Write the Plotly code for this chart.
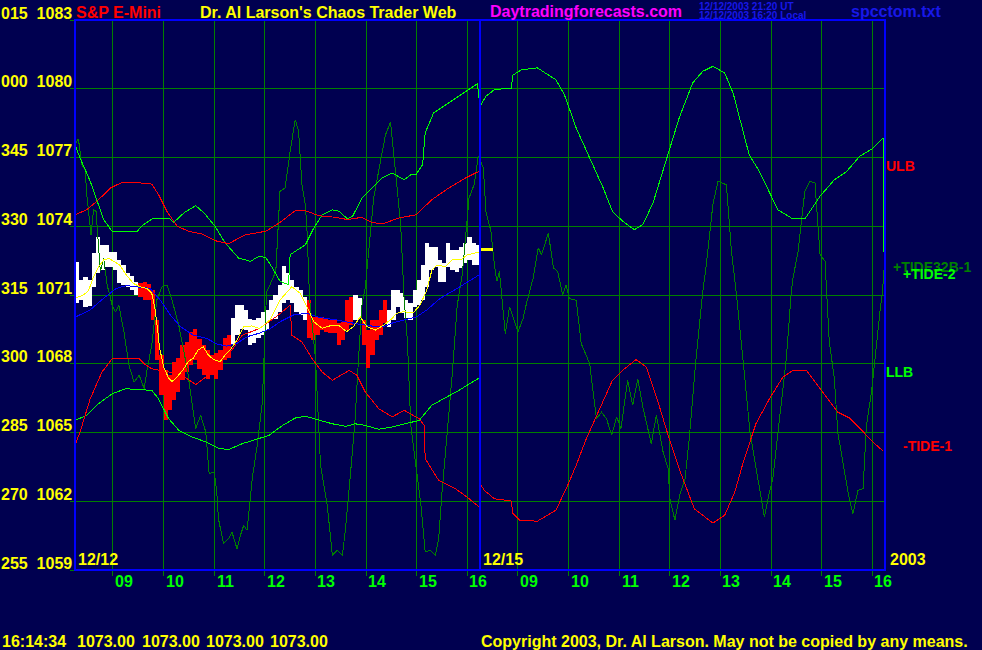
import plotly.graph_objects as go

# ---------------- data ----------------
# x axis = minutes from 08:15 on 12/12 (0..480), then 12/15 session (480..960)
hour_tick_min = [45, 105, 165, 225, 285, 345, 405, 465, 525, 585, 645, 705, 765, 825, 885, 945]
hour_tick_lbl = ["09", "10", "11", "12", "13", "14", "15", "16", "09", "10", "11", "12", "13", "14", "15", "16"]
price_grid = [1059, 1062, 1065, 1068, 1071, 1074, 1077, 1080, 1083]
price_lbl = ["255\u00a0\u00a01059", "270\u00a0\u00a01062", "285\u00a0\u00a01065", "300\u00a0\u00a01068",
             "315\u00a0\u00a01071", "330\u00a0\u00a01074", "345\u00a0\u00a01077", "000\u00a0\u00a01080",
             "015\u00a0\u00a01083"]

# 5-minute price bars for 12/12
bar_start = list(range(0, 480, 5))
bar_high = [1072.44, 1071.65, 1071.79, 1071.65, 1072.83, 1073.53, 1073.18, 1073.18, 1072.88, 1072.88,
            1072.53, 1072.31, 1071.96, 1071.83, 1071.57, 1071.52, 1071.57, 1071.48, 1071.22, 1069.91,
            1068.38, 1067.73, 1067.51, 1068.08, 1068.25, 1068.82, 1068.95, 1069.39, 1069.52, 1069.08,
            1068.82, 1068.60, 1068.38, 1068.47, 1068.60, 1069.12, 1069.25, 1070.00, 1070.56, 1070.56,
            1070.35, 1069.95, 1069.91, 1070.00, 1070.26, 1070.35, 1070.78, 1071.00, 1071.44, 1072.27,
            1071.96, 1071.65, 1071.35, 1071.22, 1070.91, 1070.78, 1070.04, 1070.04, 1070.04, 1070.00,
            1069.91, 1069.91, 1069.78, 1069.82, 1070.78, 1070.91, 1071.00, 1070.87, 1069.91, 1069.47,
            1069.91, 1069.91, 1070.35, 1070.78, 1070.35, 1071.22, 1071.22, 1071.09, 1070.78, 1070.65,
            1071.22, 1071.65, 1072.31, 1073.27, 1073.09, 1073.09, 1072.53, 1072.40, 1073.27, 1072.96,
            1072.96, 1073.09, 1073.27, 1073.53, 1073.27, 1073.18]
bar_low = [1070.65, 1070.78, 1070.48, 1070.52, 1071.35, 1071.96, 1072.09, 1072.22, 1072.22, 1072.09,
           1071.52, 1071.44, 1071.35, 1071.22, 1071.00, 1070.91, 1070.78, 1070.78, 1069.91, 1068.16,
           1066.64, 1065.55, 1065.98, 1066.42, 1066.77, 1067.29, 1067.64, 1067.95, 1068.16, 1067.77,
           1067.51, 1067.33, 1067.51, 1067.33, 1067.73, 1068.16, 1068.25, 1068.82, 1069.25, 1069.52,
           1069.47, 1068.82, 1068.91, 1069.12, 1069.25, 1069.47, 1069.91, 1069.95, 1070.26, 1070.65,
           1070.78, 1070.65, 1070.26, 1070.13, 1069.91, 1069.12, 1069.04, 1069.25, 1069.47, 1069.39,
           1069.34, 1069.34, 1068.82, 1069.04, 1069.47, 1069.69, 1069.91, 1070.00, 1068.82, 1067.81,
           1068.38, 1069.04, 1069.25, 1069.78, 1069.60, 1069.91, 1070.48, 1070.21, 1070.00, 1069.91,
           1070.48, 1070.56, 1070.78, 1071.35, 1072.09, 1072.22, 1071.57, 1071.57, 1072.22, 1072.09,
           1072.00, 1072.18, 1072.40, 1072.53, 1072.31, 1072.31]
sell_periods = [(75, 185), (275, 330), (340, 370)]   # bars shown in red
last_price = 1073.00
last_price_min = [480, 495]

# fast average (yellow)
fast_min = [0, 10, 16, 22, 28, 34, 40, 45, 53, 61, 69, 77, 85, 91, 95, 98, 100, 105, 111, 115,
            121, 128, 134, 140, 146, 152, 158, 164, 172, 178, 184, 192, 200, 210, 219, 231, 243, 257, 267, 275,
            283, 293, 302, 312, 322, 330, 338, 346, 356, 366, 376, 381, 389, 401, 409, 417, 423, 429, 439, 447,
            457, 465, 480]
fast_val = [1070.86, 1071.00, 1071.19, 1071.80, 1072.23, 1072.53, 1072.60, 1072.50, 1072.31, 1071.87,
            1071.51, 1071.36, 1071.29, 1071.07, 1070.35, 1069.47, 1068.74, 1067.87, 1067.37, 1067.22,
            1067.43, 1067.73, 1068.09, 1068.24, 1068.60, 1068.74, 1068.38, 1068.19, 1068.09, 1068.38,
            1068.60, 1069.04, 1069.62, 1069.65, 1069.54, 1069.91, 1070.78, 1071.36, 1071.07, 1070.49,
            1069.83, 1069.55, 1069.65, 1069.69, 1069.40, 1069.62, 1070.05, 1069.62, 1069.47, 1069.69,
            1069.98, 1070.20, 1070.27, 1070.23, 1070.56, 1071.22, 1072.09, 1072.31, 1072.23, 1072.53,
            1072.53, 1072.75, 1072.89]

# slow average (blue)
slow_min = [0, 18, 34, 49, 61, 77, 89, 101, 113, 125, 140, 156, 168, 180, 192, 204, 219, 231, 243, 259,
            275, 291, 310, 330, 350, 366, 377, 393, 405, 417, 433, 453, 472, 480]
slow_val = [1070.03, 1070.35, 1070.86, 1071.29, 1071.41, 1071.36, 1071.29, 1070.78, 1070.13, 1069.62,
            1069.25, 1069.11, 1068.86, 1068.77, 1068.89, 1069.18, 1069.34, 1069.52, 1069.83, 1070.13,
            1070.20, 1070.01, 1069.91, 1069.77, 1069.65, 1069.62, 1069.79, 1069.94, 1070.05, 1070.35,
            1070.86, 1071.29, 1071.73, 1071.90]

# ULB (red upper band)
ulb_min = [0, 14, 28, 42, 56, 70, 91, 99, 109, 121, 135, 151, 166, 182, 202, 226, 242, 261, 273, 289,
           309, 323, 340, 352, 364, 384, 404, 423, 443, 463, 479]
ulb_val = [1074.50, 1074.72, 1075.16, 1075.67, 1075.92, 1075.92, 1075.84, 1075.38, 1074.65, 1074.00,
           1073.78, 1073.66, 1073.37, 1073.24, 1073.63, 1073.78, 1074.14, 1074.68, 1074.68, 1074.46,
           1074.39, 1074.29, 1074.39, 1074.17, 1074.10, 1074.36, 1074.50, 1075.16, 1075.67, 1076.11,
           1076.40]

# LLB (green lower band)
llb_min = [0, 14, 28, 44, 60, 76, 91, 99, 111, 123, 139, 155, 170, 182, 198, 214, 230, 246, 261, 273,
           289, 305, 321, 332, 344, 360, 376, 392, 408, 423, 439, 455, 479]
llb_val = [1065.53, 1065.75, 1066.26, 1066.69, 1066.91, 1066.87, 1066.84, 1066.47, 1065.60, 1065.10,
           1064.80, 1064.59, 1064.32, 1064.25, 1064.51, 1064.69, 1064.88, 1065.31, 1065.63, 1065.71,
           1065.53, 1065.38, 1065.27, 1065.38, 1065.31, 1065.14, 1065.24, 1065.38, 1065.53, 1066.19,
           1066.51, 1066.84, 1067.38]

# -TIDE-1 (red)
tide1_min = [0, 6, 18, 32, 44, 76, 82, 91, 111, 127, 143, 155, 166, 186, 198, 218, 238, 255, 257, 269,
             281, 293, 305, 325, 334, 344, 360, 376, 390, 408, 414, 415, 431, 451, 467, 479,
             480, 485, 497, 517, 519, 527, 548, 570, 584, 594, 606, 622, 637, 649, 665, 677, 691, 703, 716, 734,
             756, 770, 782, 792, 807, 823, 839, 851, 867, 886, 904, 918, 934, 948, 958]
tide1_val = [1064.44, 1065.02, 1066.47, 1067.64, 1068.22, 1068.22, 1068.00, 1067.78, 1067.64, 1067.50,
             1067.09, 1067.42, 1067.86, 1068.59, 1069.24, 1069.53, 1070.04, 1070.55, 1069.24, 1068.95,
             1068.22, 1067.64, 1067.28, 1067.71, 1067.50, 1066.77, 1066.04, 1065.68, 1065.97, 1065.60,
             1065.31, 1063.86, 1062.91, 1062.55, 1062.11, 1061.75,
             1062.77, 1062.48, 1062.11, 1062.01, 1061.46, 1061.17, 1061.13, 1061.61, 1062.70, 1063.57,
             1064.73, 1066.04, 1067.28, 1067.71, 1068.18, 1067.86, 1066.33, 1064.88, 1063.42, 1061.67,
             1061.05, 1061.39, 1062.40, 1063.71, 1065.38, 1066.47, 1067.42, 1067.71, 1067.71, 1066.77,
             1065.89, 1065.63, 1065.02, 1064.51, 1064.18]

# +TIDE-2 (bright green)
tide2_min = [0, 6, 18, 26, 34, 44, 74, 79, 93, 111, 117, 129, 143, 153, 166, 178, 194, 208, 218, 226,
             234, 243, 253, 255, 273, 283, 293, 305, 313, 323, 329, 340, 352, 364, 376, 390, 398, 404, 412, 415,
             425, 443, 459, 477, 480, 487, 497, 517, 519, 529, 548, 570, 580, 594, 610, 626, 637, 649, 663, 673,
             685, 701, 716, 732, 744, 756, 770, 780, 792, 799, 811, 823, 833, 849, 865, 883, 900, 914, 930, 946,
             958, 959]
tide2_val = [1077.56, 1076.98, 1075.97, 1075.10, 1074.29, 1073.78, 1073.78, 1074.01, 1074.36, 1074.36,
             1074.17, 1074.58, 1074.90, 1074.58, 1074.00, 1073.27, 1072.61, 1072.47, 1072.69, 1072.64,
             1072.18, 1071.60, 1071.45, 1072.76, 1073.19, 1073.92, 1074.50, 1074.72, 1074.65, 1074.32,
             1074.43, 1075.23, 1075.67, 1076.11, 1076.32, 1076.03, 1076.25, 1076.25, 1076.69, 1078.07,
             1078.94, 1079.38, 1079.77, 1080.22, 1079.23, 1079.67, 1079.96, 1080.03, 1080.59, 1080.83,
             1080.91, 1080.39, 1079.74, 1078.29, 1076.98, 1075.67, 1074.65, 1074.22, 1073.85, 1074.07,
             1075.01, 1076.98, 1078.72, 1080.25, 1080.76, 1080.98, 1080.69, 1079.81, 1078.14, 1077.12,
             1076.40, 1075.45, 1074.72, 1074.36, 1074.32, 1075.31, 1076.03, 1076.37, 1077.05, 1077.41,
             1077.85, 1071.87]

# +TIDE32B-1 (dark green)
t32_min = [0, 4, 8, 12, 14, 17, 19, 22, 25, 28, 30, 34, 38, 42, 44, 48, 52, 58, 64, 70,
           76, 82, 85, 91, 97, 103, 109, 115, 123, 133, 143, 149, 155, 159, 165, 168, 170, 176, 182, 186,
           192, 196, 200, 204, 210, 216, 222, 224, 227, 231, 238, 243, 249, 255, 261, 265, 269, 273, 275, 278,
           285, 291, 299, 305, 311, 317, 321, 327, 332, 336, 340, 344, 354, 362, 368, 374, 378, 382, 386, 390,
           394, 398, 404, 410, 415, 421, 427, 431, 435, 441, 447, 453, 459, 467, 473, 478, 484, 487, 493, 497,
           500, 503, 507, 510, 515, 519, 525, 531, 535, 543, 549, 553, 561, 567, 572, 578, 582, 586, 594, 600,
           610, 618, 624, 630, 636, 642, 647, 655, 661, 667, 673, 683, 689, 697, 703, 705, 711, 717, 723, 728,
           736, 744, 748, 756, 762, 772, 778, 784, 788, 792, 800, 808, 814, 817, 823, 827, 835, 843, 849, 851,
           857, 865, 871, 877, 883, 889, 891, 894, 900, 904, 912, 918, 922, 928, 934, 938, 944, 948, 954, 957,
           959]
t32_val = [1077.56, 1077.82, 1076.69, 1076.47, 1075.38, 1074.36, 1073.63, 1074.72, 1074.65, 1073.05,
           1072.03, 1072.61, 1071.45, 1070.87, 1070.55, 1070.26, 1070.55, 1069.39, 1067.93, 1067.20,
           1067.50, 1066.91, 1067.64, 1068.82, 1070.78, 1071.35, 1071.44, 1070.78, 1069.68, 1067.78,
           1065.17, 1065.75, 1065.02, 1063.20, 1063.28, 1062.40, 1061.24, 1060.15, 1060.37, 1060.66,
           1059.93, 1060.51, 1060.95, 1060.73, 1062.98, 1064.44, 1066.33, 1068.22, 1071.13, 1071.44,
           1072.03, 1075.53, 1075.67, 1077.27, 1078.65, 1078.14, 1075.81, 1074.94, 1073.78, 1070.87,
           1068.22, 1063.57, 1061.82, 1059.64, 1059.86, 1059.64, 1060.95, 1063.42, 1065.60, 1068.22,
           1070.55, 1071.31, 1075.23, 1076.83, 1077.99, 1078.55, 1076.98, 1075.53, 1074.07, 1070.87,
           1068.95, 1065.31, 1063.57, 1061.82, 1059.79, 1059.86, 1059.64, 1060.37, 1062.40, 1065.02,
           1067.50, 1070.55, 1071.89, 1075.23, 1075.81, 1077.05, 1076.54, 1074.65, 1073.78, 1072.32,
           1071.60, 1072.03, 1070.55, 1069.31, 1070.48, 1070.04, 1069.39, 1069.97, 1070.62, 1071.74,
           1073.05, 1072.76, 1073.71, 1072.18, 1072.03, 1071.01, 1071.45, 1070.84, 1070.77, 1068.88,
           1068.00, 1065.60, 1065.89, 1065.60, 1064.88, 1065.68, 1065.17, 1067.28, 1066.19, 1067.35,
           1066.11, 1064.51, 1065.75, 1064.15, 1063.42, 1062.11, 1061.17, 1062.33, 1062.98, 1064.73,
           1068.22, 1071.13, 1072.25, 1074.94, 1075.96, 1075.81, 1072.91, 1071.01, 1069.39, 1068.08,
           1065.02, 1063.28, 1061.82, 1061.31, 1062.40, 1062.98, 1065.60, 1068.22, 1071.13, 1071.74,
           1072.91, 1075.53, 1075.96, 1075.89, 1072.76, 1072.47, 1071.01, 1068.95, 1067.35, 1065.02,
           1063.28, 1062.04, 1061.46, 1062.48, 1062.55, 1065.31, 1066.77, 1068.22, 1070.26, 1071.13,
           1072.18]

for a, b in [(bar_high, bar_low), (fast_min, fast_val), (slow_min, slow_val), (ulb_min, ulb_val),
             (llb_min, llb_val), (tide1_min, tide1_val), (tide2_min, tide2_val), (t32_min, t32_val)]:
    assert len(a) == len(b), (len(a), len(b))
assert len(bar_start) == len(bar_high)

# ---------------- styling ----------------
BG = "#000050"
GRID = "#008000"
BLUE = "#0000FF"
YEL = "#FFFF00"
RED = "#FF0000"
LGREEN = "#00FF00"
MAGENTA = "#FF00FF"
FONT = "Liberation Sans, Arial, sans-serif"

PL, PR, PT, PB = 75, 885, 20, 570  # plot area in pixels

fig = go.Figure()

def line(xs, ys, color, width=1):
    fig.add_trace(go.Scatter(x=xs, y=ys, mode="lines", hoverinfo="skip",
                             line=dict(color=color, width=width)))

line(t32_min, t32_val, GRID, 1)
line(tide2_min, tide2_val, LGREEN, 1)
line(llb_min, llb_val, LGREEN, 1)
line(ulb_min, ulb_val, RED, 1)
line(tide1_min, tide1_val, RED, 1)

colors = [RED if any(a <= s < b for a, b in sell_periods) else "#FFFFFF" for s in bar_start]
fig.add_trace(go.Bar(x=[s + 2.5 for s in bar_start], y=[h - l for h, l in zip(bar_high, bar_low)],
                     base=bar_low, width=5, hoverinfo="skip",
                     marker=dict(color=colors, line=dict(width=0))))

line(slow_min, slow_val, BLUE, 1)
line(fast_min, fast_val, YEL, 1)
line(last_price_min, [last_price, last_price], YEL, 3)

fig.update_layout(
    width=982, height=650, autosize=False,
    margin=dict(l=PL, r=982 - PR, t=PT, b=650 - PB, pad=0),
    paper_bgcolor=BG, plot_bgcolor=BG, showlegend=False, bargap=0,
    xaxis=dict(range=[0, 960], tickvals=hour_tick_min, showticklabels=False, ticks="outside",
               ticklen=5, tickcolor=GRID, tickwidth=1, showgrid=True, gridcolor=GRID, gridwidth=1,
               zeroline=False, showline=False, fixedrange=True),
    yaxis=dict(range=[1059, 1083], tickvals=price_grid, showticklabels=False, ticks="outside",
               ticklen=4, tickcolor=GRID, showgrid=True, gridcolor=GRID, gridwidth=1,
               zeroline=False, showline=False, fixedrange=True),
)

# border and session divider
fig.add_shape(type="rect", xref="paper", yref="paper", x0=0, x1=1, y0=0, y1=1,
              line=dict(color=BLUE, width=2))
fig.add_shape(type="line", xref="x", yref="paper", x0=480, x1=480, y0=0, y1=1,
              line=dict(color=BLUE, width=1.5))

def px_x(px):
    return (px - PL) / (PR - PL)

def px_y(py):
    return (PB - py) / (PB - PT)

def text(s, px, py, color, size=16, anchor="left", bold=True):
    fig.add_annotation(xref="paper", yref="paper", x=px_x(px), y=px_y(py), text=s,
                       showarrow=False, xanchor=anchor, yanchor="middle", borderpad=0,
                       font=dict(family=FONT, size=size, color=color,
                                 weight="bold" if bold else "normal"))

# price labels on the left
for v, s in zip(price_grid, price_lbl):
    gy = PT + (1083 - v) * (PB - PT) / 24
    text(s, 73, gy - 7, YEL, anchor="right")

# hour labels
for m, s in zip(hour_tick_min, hour_tick_lbl):
    text(s, PL + (m + 13) * (PR - PL) / 960, 581.5, LGREEN, anchor="center")

# header
text("S&P E-Mini", 75, 12.5, RED)
text("Dr. Al Larson's Chaos Trader Web", 199, 12.5, YEL)
text("Daytradingforecasts.com", 489, 12, MAGENTA)
text("12/12/2003 21:20 UT", 698, 6, "#1818E8", size=10)
text("12/12/2003 16:20 Local", 698, 15, "#1818E8", size=10)
text("spcctom.txt", 850, 11, "#1818E8")

# in-plot / side labels
text("ULB", 885, 166, RED, size=14)
text("+TIDE32B-1", 892, 267, GRID, size=14)
text("+TIDE-2", 902, 274, LGREEN, size=14)
text("LLB", 885, 372, LGREEN, size=14)
text("-TIDE-1", 902, 446, RED, size=14)
text("12/12", 77, 559, YEL)
text("12/15", 482, 559, YEL)
text("2003", 889, 559, YEL)

# footer
text("16:14:34", 1, 641.5, YEL)
for xx in [76, 141, 205, 269]:
    text("1073.00", xx, 641.5, YEL)
text("Copyright 2003, Dr. Al Larson. May not be copied by any means.", 480, 641.5, YEL)

fig.write_html(
    "out.html", config={"displayModeBar": False},
    post_script=("document.body.style.margin='0';document.body.style.overflow='hidden';"
                 "document.querySelectorAll('.scatterlayer path, .shapelayer path, .gridlayer path')"
                 ".forEach(function(p){p.style.shapeRendering='crispEdges';});"))
